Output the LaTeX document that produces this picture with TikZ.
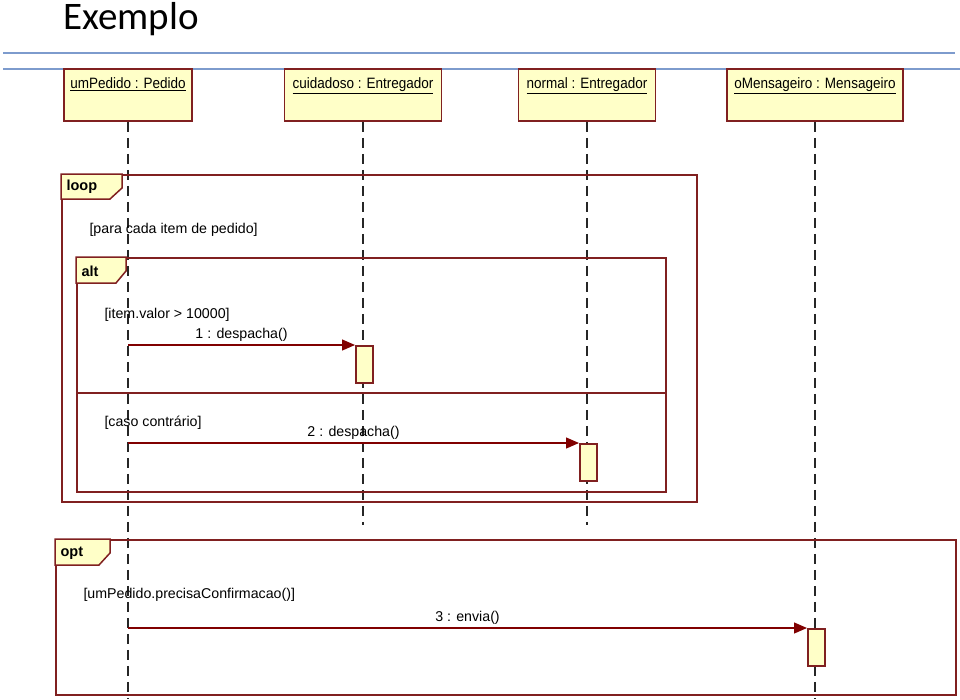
\documentclass[tikz,border=0pt]{standalone}
\usepackage{fontspec}
\setmainfont{Liberation Sans}
\newfontfamily\headfont{Liberation Sans}[FakeStretch=0.9]
\newfontfamily\titlefont{Carlito}
\usetikzlibrary{positioning, arrows.meta}
\definecolor{umlred}{RGB}{128,32,32}
\definecolor{arrowred}{RGB}{128,0,0}
\definecolor{umlyellow}{RGB}{255,255,200}
\definecolor{rulerblue}{RGB}{125,155,205}
\tikzset{
object head/.style = {
             draw=umlred,
             fill=umlyellow,
             line width=1.6pt,
             minimum height=52pt,
             inner sep=0pt
   },
head label/.style = {font=\fontsize{15}{17}\selectfont\headfont},
activation/.style = {
    draw=umlred, fill=umlyellow, line width=1.5pt,
    minimum width=17pt, minimum height=37pt,
    inner sep=0pt, anchor=north west
  },
lifeline/.style = {
     draw=black!85,
     line width=1.4pt,
     dash pattern=on 10pt off 6pt
     },
message/.style = {
     -{Triangle[length=13pt,width=11pt]},
     draw=arrowred,
     line width=1.2pt
     },
frame/.style = {
    draw=umlred, line width=1.6pt,
    inner sep=0pt, anchor=north west
  },
frame tab/.style = {draw=umlred, fill=umlyellow, line width=1.5pt},
tab label/.style = {anchor=west, font=\fontsize{14.5}{17}\selectfont\bfseries},
guard/.style = {anchor=base west}
}

\begin{document}
\begin{tikzpicture}[x=1pt, y=-1pt, font=\fontsize{14.2}{17}\selectfont]
\useasboundingbox (0,0) rectangle (960,699);
% title and rulers
\node[anchor=base west, inner sep=0pt, font=\fontsize{39}{42}\selectfont\titlefont] (title) at (63,29) {Exemplo};
\draw[rulerblue, line width=1.5pt] (3,53) -- (955,53);
\draw[rulerblue, line width=1.5pt] (3,69) -- (960,69);
% objects and lifelines
\foreach \name/\x/\w/\ends/\lbl in {pedido/128/128/699/umPedido : Pedido,
    cuidadoso/363/157/525/cuidadoso : Entregador,
    normal/587/137/525/normal : Entregador,
    mensageiro/815/176/699/oMensageiro : Mensageiro} {
   \node[object head, minimum width=\w] (\name) at (\x,95) {};
   \node[head label, below=6pt of \name.north] {\underline{\lbl}};
   \coordinate (\name end) at (\x,\ends);
   \draw[lifeline] (\name.south) -- (\name end);
}
% loop frame
\node[frame, minimum width=635pt, minimum height=327pt] (loop) at (61,174) {};
\draw[frame tab] (loop.north west) -- ++(61,0) -- ++(0,14) -- ++(-12,11) -- ++(-49,0) -- cycle;
\node[tab label] at (63,187) {loop};
\node[guard] at (86,233) {[para cada item de pedido]};
% alt frame
\node[frame, minimum width=589pt, minimum height=234pt] (alt) at (76,257) {};
\draw[frame tab] (alt.north west) -- ++(50,0) -- ++(0,14) -- ++(-10,12) -- ++(-40,0) -- cycle;
\node[tab label] at (78,271) {alt};
\draw[umlred, line width=1.6pt] (alt.west |- 0,393) -- (alt.east |- 0,393);
\node[guard] at (101,318) {[item.valor > 10000]};
\node[guard] at (101,426) {[caso contrário]};
% opt frame
\node[frame, minimum width=900pt, minimum height=155pt] (opt) at (55,539) {};
\draw[frame tab] (opt.north west) -- ++(55,0) -- ++(0,14) -- ++(-11,12) -- ++(-44,0) -- cycle;
\node[tab label] at (57,553) {opt};
\node[guard] at (80,598) {[umPedido.precisaConfirmacao()]};
% activations and messages
\node[activation] (act1) at (355,345) {};
\node[activation] (act2) at (579,443) {};
\node[activation] (act3) at (807,628) {};
\draw[message] (pedido |- act1.north west) -- node[midway, above] {1 : despacha()} (act1.north west);
\draw[message] (pedido |- act2.north west) -- node[midway, above] {2 : despacha()} (act2.north west);
\draw[message] (pedido |- act3.north west) -- node[midway, above] {3 : envia()} (act3.north west);
\end{tikzpicture}
\end{document}
